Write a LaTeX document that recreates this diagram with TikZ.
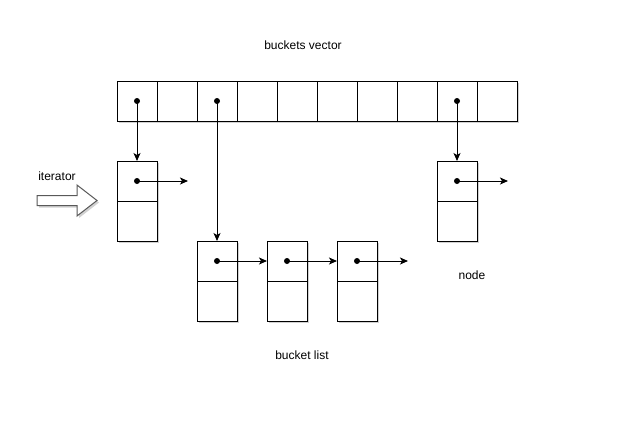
\documentclass[tikz,border=0pt]{standalone}
\usepackage{fontspec}
\setmainfont{Liberation Sans}
\usetikzlibrary{arrows.meta,shadows}
\begin{document}
\begin{tikzpicture}[x=1pt,y=-1pt,
  cell/.style={draw,line width=1pt,minimum width=40pt,minimum height=40pt,inner sep=0pt,outer sep=0pt,fill=white,
    drop shadow={shadow xshift=2pt,shadow yshift=-2pt,fill=black,opacity=0.18}},
  dotn/.style={circle,fill=black,inner sep=0pt,minimum size=6pt},
  ptr/.style={line width=1pt,-{Stealth[length=8pt,width=7pt,inset=2pt]}},
  lbl/.style={font=\fontsize{12}{14}\selectfont,inner sep=0pt}]
\useasboundingbox[fill=white] (0,0) rectangle (625,432);
% buckets vector
\foreach \i in {0,...,9}{
  \node[cell] (c\i) at ({137+40*\i},101) {};
}
\node[lbl] (title) at (303,45) {buckets vector};
% single node
\node[cell] (n1t) at (137,181) {};
\node[cell] (n1b) at (137,221) {};
% right node
\node[cell] (n2t) at (457,181) {};
\node[cell] (n2b) at (457,221) {};
% bucket list
\node[cell] (l1t) at (217,261) {};
\node[cell] (l1b) at (217,301) {};
\node[cell] (l2t) at (287,261) {};
\node[cell] (l2b) at (287,301) {};
\node[cell] (l3t) at (357,261) {};
\node[cell] (l3b) at (357,301) {};
% dots
\node[dotn] (d0) at (c0.center) {};
\node[dotn] (d2) at (c2.center) {};
\node[dotn] (d8) at (c8.center) {};
\node[dotn] (dn1) at (n1t.center) {};
\node[dotn] (dn2) at (n2t.center) {};
\node[dotn] (dl1) at (l1t.center) {};
\node[dotn] (dl2) at (l2t.center) {};
\node[dotn] (dl3) at (l3t.center) {};
% free ends
\coordinate (e1) at (188,181);
\coordinate (e2) at (508,181);
\coordinate (e3) at (408,261);
% pointers
\draw[ptr] (d0.center) -- (n1t.north);
\draw[ptr] (d2.center) -- (l1t.north);
\draw[ptr] (d8.center) -- (n2t.north);
\draw[ptr] (dn1.center) -- (e1);
\draw[ptr] (dn2.center) -- (e2);
\draw[ptr] (dl1.center) -- (l2t.west);
\draw[ptr] (dl2.center) -- (l3t.west);
\draw[ptr] (dl3.center) -- (e3);
% iterator arrow
\fill[black!18] (39,197.5) -- (79,197.5) -- (79,187) -- (99,202.5) -- (79,218) -- (79,207.5) -- (39,207.5) -- cycle;
\draw[line width=1pt,draw=black!65,fill=white] (37,195.5) -- (77,195.5) -- (77,185) -- (97,200.5) -- (77,216) -- (77,205.5) -- (37,205.5) -- cycle;
\node[lbl] (iter) at (57,176) {iterator};
\node[lbl] (nodelbl) at (472,275) {node};
\node[lbl] (blist) at (302,355) {bucket list};
\end{tikzpicture}
\end{document}
